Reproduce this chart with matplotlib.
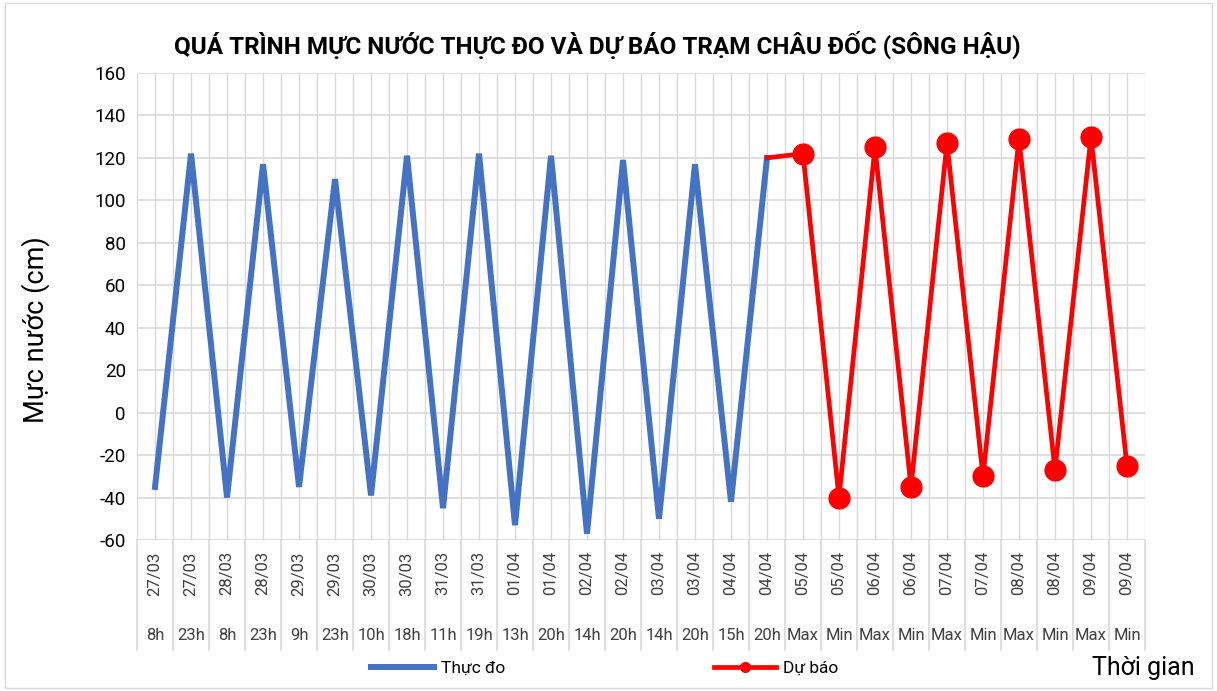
import matplotlib.pyplot as plt
from matplotlib.lines import Line2D

plt.rcParams['font.family'] = ['Roboto', 'DejaVu Sans']
plt.rcParams['axes.unicode_minus'] = False

# category labels (two-level axis)
dates = ['27/03', '27/03', '28/03', '28/03', '29/03', '29/03', '30/03', '30/03',
         '31/03', '31/03', '01/04', '01/04', '02/04', '02/04', '03/04', '03/04',
         '04/04', '04/04', '05/04', '05/04', '06/04', '06/04', '07/04', '07/04',
         '08/04', '08/04', '09/04', '09/04']
hours = ['8h', '23h', '8h', '23h', '9h', '23h', '10h', '18h', '11h', '19h', '13h', '20h',
         '14h', '20h', '14h', '20h', '15h', '20h', 'Max', 'Min', 'Max', 'Min', 'Max', 'Min',
         'Max', 'Min', 'Max', 'Min']

# measured water level (cm)
measured = [-35, 122, -40, 117, -35, 110, -39, 121, -45, 122, -53, 121,
            -57, 119, -50, 117, -42, 120]
# forecast water level (cm), starting from last measured value
forecast = [120, 122, -40, 125, -35, 127, -30, 129, -27, 130, -25]

x_meas = list(range(len(measured)))
x_fc = list(range(len(measured) - 1, len(measured) - 1 + len(forecast)))

fig = plt.figure(figsize=(12.17, 6.91), dpi=100)
ax = fig.add_axes([0.1126, 0.2185, 0.8282, 0.6759])

ax.plot(x_meas, measured, color='#4472C4', lw=4.3, solid_joinstyle='miter', zorder=3)
ax.plot(x_fc, forecast, color='#FF0000', lw=3.4, zorder=4)
ax.plot(x_fc[1:], forecast[1:], 'o', color='#FF0000', ms=15, zorder=5)

ax.set_xlim(-0.5, len(dates) - 0.5)
ax.set_ylim(-60, 160)
ax.set_yticks(range(-60, 161, 20))
ax.tick_params(axis='y', length=0, labelsize=13.5, pad=8)

# gridlines: horizontal every 20, vertical at centers and boundaries
for y in range(-60, 161, 20):
    ax.axhline(y, color='#d9d9d9', lw=1.2, zorder=1)
for k in range(len(dates) * 2 + 1):
    ax.axvline(-0.5 + k * 0.5, color='#d9d9d9', lw=1.0, zorder=1)
for s in ax.spines.values():
    s.set_visible(False)

# two-level category labels
ax.set_xticks(range(len(dates)))
ax.set_xticklabels(dates, rotation=90, fontsize=12, color='#404040')
ax.tick_params(axis='x', length=0, pad=8)
tr = ax.get_xaxis_transform()
for i, h in enumerate(hours):
    ax.text(i, -0.205, h, transform=tr, ha='center', va='center', fontsize=12,
            color='#404040')
for k in range(len(dates) + 1):
    ax.add_line(Line2D([k - 0.5, k - 0.5], [0, -0.235], transform=tr, color='#d9d9d9',
                       lw=1.2, clip_on=False))

ax.set_ylabel('Mực nước (cm)', fontsize=19.5)
ax.yaxis.set_label_coords(-0.086, 0.45)
fig.text(0.491, 0.935, 'QUÁ TRÌNH MỰC NƯỚC THỰC ĐO VÀ DỰ BÁO TRẠM CHÂU ĐỐC (SÔNG HẬU)',
         ha='center', va='center', fontsize=17.5, fontweight='bold')

handles = [Line2D([], [], color='#4472C4', lw=4.3),
           Line2D([], [], color='#FF0000', lw=3.4, marker='o', ms=7)]
fig.legend(handles, ['Thực đo', 'Dự báo'], loc='center', bbox_to_anchor=(0.497, 0.033),
           ncol=2, frameon=False, fontsize=12.5, handlelength=3.6, columnspacing=12,
           handletextpad=0.4)
fig.text(0.982, 0.033, 'Thời gian', ha='right', va='center', fontsize=18)

fig.patches.append(plt.Rectangle((0.004, 0.004), 0.992, 0.992, transform=fig.transFigure,
                                 fill=False, edgecolor='#d9d9d9', lw=1))

fig.savefig('out.png', dpi=100)
